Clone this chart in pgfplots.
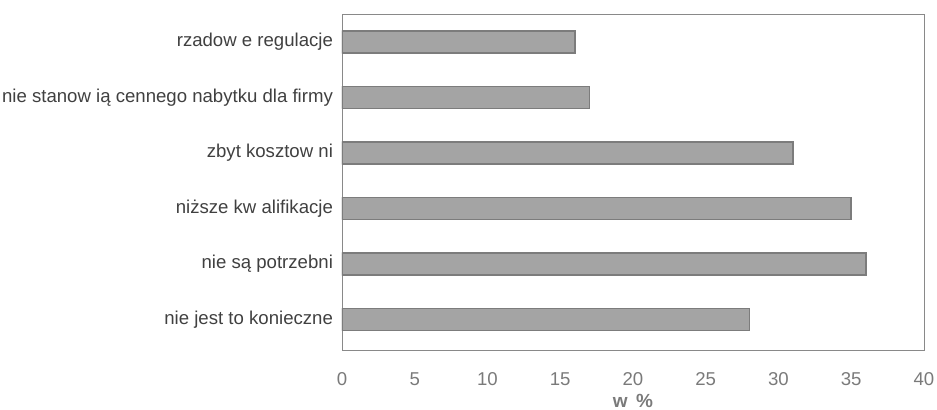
\documentclass[border=0pt]{standalone}
\usepackage{pgfplots}
\pgfplotsset{compat=1.18}
\usepackage{fontspec}
\setmainfont{Liberation Sans}
\definecolor{barfill}{HTML}{A4A4A4}
\definecolor{barline}{HTML}{7C7C7C}
\definecolor{framec}{HTML}{C4C4C4}
\definecolor{ylab}{HTML}{404040}
\definecolor{xlab}{HTML}{7A7A7A}
\begin{document}
\begin{tikzpicture}
\useasboundingbox (0,0) rectangle (468.5pt,204.5pt);
\begin{axis}[
  at={(171pt,29.5pt)}, anchor=south west,
  scale only axis, width=291pt, height=168pt,
  xbar, bar width=11pt,
  xmin=0, xmax=40, xtick={0,5,...,40},
  ymin=-0.55, ymax=5.5,
  ytick={0,1,2,3,4,5},
  yticklabels={nie jest to konieczne, nie są potrzebni, niższe kw alifikacje, zbyt kosztow ni, nie stanow ią cennego nabytku dla firmy, rzadow e regulacje},
  major tick length=0pt,
  axis line style={framec},
  y axis line style={draw=framec!70!black},
  ticklabel style={font=\fontsize{9.3}{11}\selectfont},
  yticklabel style={text=ylab, xshift=-1pt},
  xticklabel style={text=xlab, anchor=base, yshift=-17.5pt},
  /pgf/number format/assume math mode=true,
  xlabel={\textbf{w \,\%}},
  xlabel style={font=\fontsize{9.5}{11}\selectfont, text=xlab, at={(axis description cs:0.5,0)}, anchor=base, yshift=-28.5pt},
]
\addplot[fill=barfill, draw=barline, line width=0.8pt] coordinates {(28,0) (36,1) (35,2) (31,3) (17,4) (16,5)};
\end{axis}
\end{tikzpicture}
\end{document}
